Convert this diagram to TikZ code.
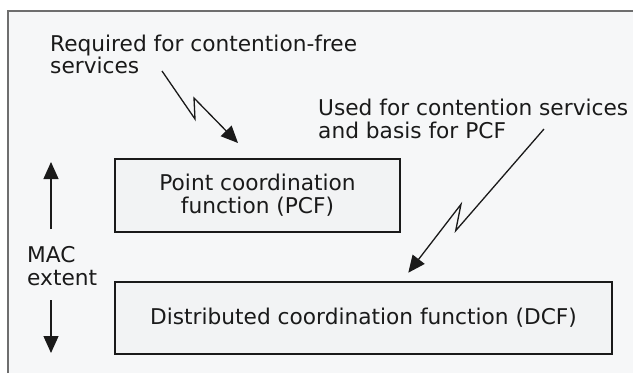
\documentclass[tikz,border=0pt]{standalone}
\usepackage{fontspec}
\setmainfont{DejaVu Sans}
\usetikzlibrary{arrows.meta}
\definecolor{bgc}{HTML}{F6F7F8}
\definecolor{framec}{HTML}{6E6E6E}
\definecolor{inkc}{HTML}{1A1A1A}
\definecolor{boxc}{HTML}{F2F3F4}
\begin{document}
\begin{tikzpicture}[x=1pt,y=-1pt,
  lbl/.style={font=\fontsize{21.7}{23}\selectfont, text=inkc, inner sep=0pt, align=left, anchor=north west},
  fbox/.style={draw=inkc, line width=1.1pt, fill=boxc, font=\fontsize{21.7}{23}\selectfont, text=inkc, align=center, inner sep=0pt},
  arr/.style={draw=inkc, line width=1.3pt, line join=miter, -{Triangle[length=17pt,width=15pt]}}]
\useasboundingbox (0,0) rectangle (633,373);
\fill[white] (0,0) rectangle (633,373);
\fill[bgc] (8,11) rectangle (633,373);
\draw[framec, line width=1.2pt] (8,373) -- (8,11) -- (633,11);
% boxes
\node[fbox, minimum width=285pt, minimum height=73pt] (pcf) at (257.5,195.5) {Point coordination\\function (PCF)};
\node[fbox, minimum width=497pt, minimum height=72pt] (dcf) at (363.5,318) {Distributed coordination function (DCF)};
% labels
\node[lbl, font=\fontsize{21.7}{20.5}\selectfont] (req) at (50,34.7) {Required for contention-free\\services};
\node[lbl] (used) at (318,98.7) {Used for contention services\\and basis for PCF};
\node[lbl] (mac) at (27,246.3) {MAC\\extent};
% lightning arrows
\coordinate (b1s) at (162,71);
\coordinate (b1a) at (195,119);
\coordinate (b1b) at (194,98);
\coordinate (b1t) at (238,143);
\draw[arr] (b1s) -- (b1a) -- (b1b) -- (b1t);
\coordinate (b2s) at (544,129);
\coordinate (b2a) at (455.7,230.7);
\coordinate (b2b) at (461,204.3);
\coordinate (b2t) at (408.3,272.7);
\draw[arr] (b2s) -- (b2a) -- (b2b) -- (b2t);
% MAC extent arrows
\coordinate (upS) at (51,229);
\coordinate (upT) at (51,162);
\draw[arr] (upS) -- (upT);
\coordinate (dnS) at (51,300);
\coordinate (dnT) at (51,353);
\draw[arr] (dnS) -- (dnT);
\end{tikzpicture}
\end{document}
